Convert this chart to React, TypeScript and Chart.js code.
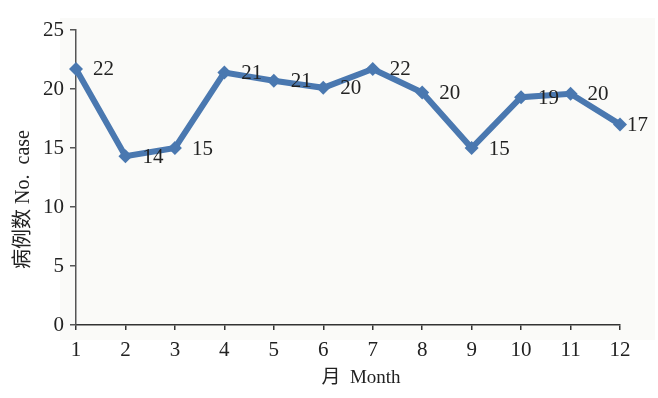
import React, { useEffect, useRef } from "react";
import { Chart, registerables } from "chart.js";

Chart.register(...registerables);

const months: string[] = ["1", "2", "3", "4", "5", "6", "7", "8", "9", "10", "11", "12"];
const cases: number[] = [21.7, 14.3, 15.0, 21.4, 20.7, 20.1, 21.7, 19.7, 15.0, 19.3, 19.6, 17.0];
const caseLabels: string[] = ["22", "14", "15", "21", "21", "20", "22", "20", "15", "19", "20", "17"];
const yTicks: number[] = [0, 5, 10, 15, 20, 25];
const xTitle = "月  Month";
const yTitle = "病例数 No.  case";

const LINE = "#4a78b0";
const FONT = "'Liberation Serif', 'Times New Roman', 'Noto Sans CJK SC', serif";

const bgPlugin = {
  id: "bgPanel",
  beforeDraw(chart: any) {
    const { ctx, chartArea } = chart;
    ctx.save();
    ctx.fillStyle = "#fafaf8";
    ctx.fillRect(chartArea.left - 16, chartArea.top - 12, chartArea.right - chartArea.left + 51, chartArea.bottom - chartArea.top + 27);
    ctx.restore();
  },
};

const labelPlugin = {
  id: "pointLabels",
  afterDatasetsDraw(chart: any) {
    const { ctx, chartArea } = chart;
    const meta = chart.getDatasetMeta(0);
    ctx.save();
    ctx.font = `21px ${FONT}`;
    ctx.fillStyle = "#222";
    ctx.textAlign = "left";
    ctx.textBaseline = "middle";
    meta.data.forEach((pt: any, i: number) => {
      const dx = i === meta.data.length - 1 ? 7 : 17;
      ctx.fillText(caseLabels[i], pt.x + dx, pt.y + 1);
    });
    // axis titles
    ctx.font = `19px ${FONT}`;
    ctx.textAlign = "center";
    ctx.textBaseline = "middle";
    const cx = (chartArea.left + chartArea.right) / 2 + 13;
    ctx.fillText(xTitle, cx, chartArea.bottom + 53);
    ctx.save();
    ctx.font = `20px ${FONT}`;
    ctx.translate(chartArea.left - 52, (chartArea.top + chartArea.bottom) / 2 + 22);
    ctx.rotate(-Math.PI / 2);
    ctx.fillText(yTitle, 0, 0);
    ctx.restore();
    ctx.restore();
  },
};

export default function App() {
  const ref = useRef<HTMLCanvasElement | null>(null);
  useEffect(() => {
    if (!ref.current) return;
    const chart = new Chart(ref.current, {
      type: "line",
      data: {
        labels: months,
        datasets: [
          {
            data: cases,
            borderColor: LINE,
            backgroundColor: LINE,
            borderWidth: 6,
            pointStyle: "rectRot",
            pointRadius: 7,
            pointBorderWidth: 0,
            pointBackgroundColor: LINE,
            tension: 0,
          },
        ],
      },
      options: {
        responsive: false,
        animation: false,
        maintainAspectRatio: false,
        layout: { padding: { top: 30, right: 38, left: 0, bottom: 0 } },
        plugins: { legend: { display: false }, tooltip: { enabled: false } },
        scales: {
          x: {
            type: "category",
            offset: false,
            afterFit: (s: any) => {
              s.height = 73;
            },
            grid: { display: true, drawOnChartArea: false, drawTicks: true, tickLength: 5, tickColor: "#333", lineWidth: 1.5 },
            border: { display: true, color: "#333", width: 1.5 },
            ticks: { color: "#222", font: { family: FONT, size: 21 }, padding: 8, maxRotation: 0, autoSkip: false },
            title: { display: false },
          },
          y: {
            min: 0,
            max: 25,
            afterFit: (s: any) => {
              s.width = 76;
            },
            afterBuildTicks: (s: any) => {
              s.ticks = yTicks.map((v) => ({ value: v }));
            },
            grid: { display: true, drawOnChartArea: false, drawTicks: true, tickLength: 6, tickColor: "#555", lineWidth: 1.5 },
            border: { display: true, color: "#555", width: 1.5 },
            ticks: { color: "#222", font: { family: FONT, size: 21 }, padding: 6 },
            title: { display: false },
          },
        },
      },
      plugins: [bgPlugin, labelPlugin],
    });
    return () => chart.destroy();
  }, []);
  return (
    <div style={{ position: "absolute", left: 0, top: 0, width: 658, height: 398, background: "#fff" }}>
      <canvas ref={ref} width={658} height={398} style={{ display: "block", width: 658, height: 398 }} />
    </div>
  );
}
